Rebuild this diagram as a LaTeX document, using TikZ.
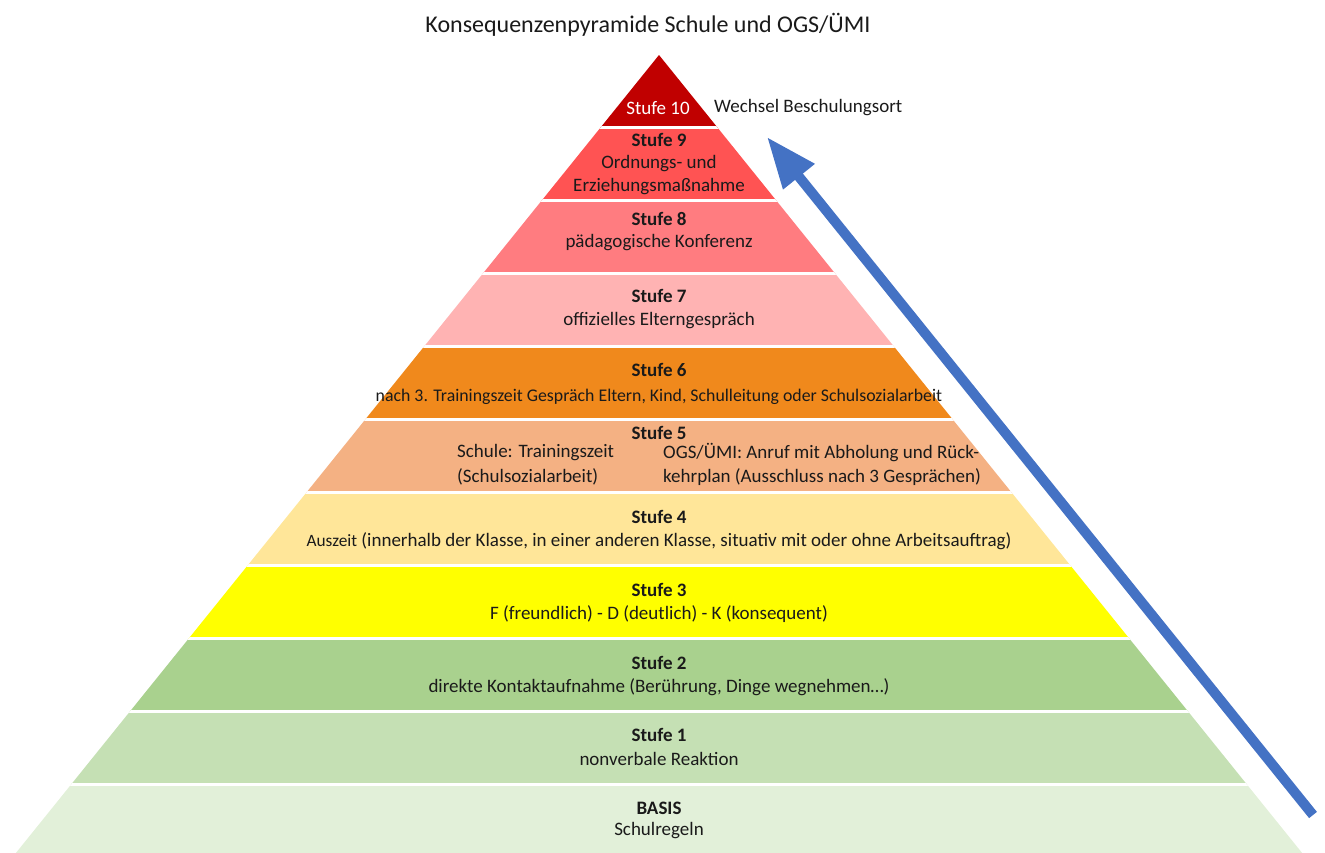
\documentclass[tikz,border=0pt]{standalone}
\usepackage{fontspec}
\setmainfont{Carlito}
\usetikzlibrary{positioning,arrows.meta}

\definecolor{farbe10}{HTML}{C00000}
\definecolor{farbe9}{HTML}{FF5353}
\definecolor{farbe8}{HTML}{FF7C80}
\definecolor{farbe7}{HTML}{FFB3B3}
\definecolor{farbe6}{HTML}{F0891C}
\definecolor{farbe5}{HTML}{F4B183}
\definecolor{farbe4}{HTML}{FFE699}
\definecolor{farbe3}{HTML}{FFFF00}
\definecolor{farbe2}{HTML}{A9D18E}
\definecolor{farbe1}{HTML}{C5E0B4}
\definecolor{farbe0}{HTML}{E2F0D9}
\definecolor{pfeilblau}{HTML}{4472C4}
\definecolor{schrift}{HTML}{1A1A1A}

\tikzset{
  titel/.style={font=\fontsize{24}{28}\selectfont, text=schrift, inner sep=0pt},
  stufe/.style={font=\fontsize{19}{23}\selectfont\bfseries, text=schrift, inner sep=0pt},
  txt/.style={font=\fontsize{19}{23}\selectfont, text=schrift, inner sep=0pt},
  klein/.style={font=\fontsize{17.8}{21}\selectfont, text=schrift, inner sep=0pt},
  trenner/.style={white, line width=2.5pt},
  pfeil/.style={pfeilblau, line width=10pt, -{Triangle[length=51pt,width=38pt]}}
}

\begin{document}
\begin{tikzpicture}[x=1pt, y=-1pt, node distance=24pt]
  \useasboundingbox (0,0) rectangle (1325,853);

  % pyramid bands
  \begin{scope}
    \clip (659,55) -- (-22,900) -- (1340,900) -- cycle;
    \fill[farbe10] (0,55) rectangle (1325,128);
    \fill[farbe9] (0,128) rectangle (1325,201);
    \fill[farbe8] (0,201) rectangle (1325,274);
    \fill[farbe7] (0,274) rectangle (1325,347);
    \fill[farbe6] (0,347) rectangle (1325,420);
    \fill[farbe5] (0,420) rectangle (1325,493);
    \fill[farbe4] (0,493) rectangle (1325,566);
    \fill[farbe3] (0,566) rectangle (1325,639);
    \fill[farbe2] (0,639) rectangle (1325,712);
    \fill[farbe1] (0,712) rectangle (1325,785);
    \fill[farbe0] (0,785) rectangle (1325,900);
    \foreach \y in {127.5,200.5,273.5,346.5,419.5,492.5,565.5,638.5,711.5,784.5}
      \draw[trenner] (0,\y) -- (1325,\y);
  \end{scope}

  \node (titel) [titel] at (648,25) {Konsequenzenpyramide Schule und OGS/ÜMI};

  \node (s10) [txt, text=white] at (658,108) {Stufe 10};
  \node (s10t) [txt, anchor=west] at (714,108) {Wechsel Beschulungsort};

  \node (s9) [stufe] at (659,140) {Stufe 9};
  \node (s9t) [txt, below of=s9] {Ordnungs- und};
  \node (s9u) [txt, below of=s9t, node distance=23pt] {Erziehungsmaßnahme};

  \node (s8) [stufe] at (659,219) {Stufe 8};
  \node (s8t) [txt, below of=s8] {pädagogische Konferenz};

  \node (s7) [stufe] at (659,296) {Stufe 7};
  \node (s7t) [txt, below of=s7, node distance=25pt] {offizielles Elterngespräch};

  \node (s6) [stufe] at (659,370) {Stufe 6};
  \node (s6t) [klein, below of=s6, node distance=27pt] {nach 3. Trainingszeit Gespräch Eltern, Kind, Schulleitung oder Schulsozialarbeit};

  \node (s5) [stufe] at (659,433) {Stufe 5};
  \node (s5a) [txt, anchor=west] at (457,453) {Schule: Trainingszeit};
  \node (s5b) [txt, anchor=west] at (457,477) {(Schulsozialarbeit)};
  \node (s5c) [txt, anchor=west] at (663,453) {OGS/ÜMI: Anruf mit Abholung und Rück-};
  \node (s5d) [txt, anchor=west] at (663,477) {kehrplan (Ausschluss nach 3 Gesprächen)};

  \node (s4) [stufe] at (659,517) {Stufe 4};
  \node (s4t) [txt, below of=s4] {{\fontsize{17.3}{20}\selectfont Auszeit} (innerhalb der Klasse, in einer anderen Klasse, situativ mit oder ohne Arbeitsauftrag)};

  \node (s3) [stufe] at (659,590) {Stufe 3};
  \node (s3t) [txt, below of=s3] {F (freundlich) - D (deutlich) - K (konsequent)};

  \node (s2) [stufe] at (659,663) {Stufe 2};
  \node (s2t) [txt, below of=s2] {direkte Kontaktaufnahme (Berührung, Dinge wegnehmen…)};

  \node (s1) [stufe] at (659,735) {Stufe 1};
  \node (s1t) [txt, below of=s1] {nonverbale Reaktion};

  \node (s0) [stufe] at (659,808) {BASIS};
  \node (s0t) [txt, below of=s0, node distance=23pt] {Schulregeln};

  % arrow
  \coordinate (fuss) at (1313,815);
  \coordinate (spitze) at (767,137);
  \draw[pfeil] (fuss) -- (spitze);
\end{tikzpicture}
\end{document}
